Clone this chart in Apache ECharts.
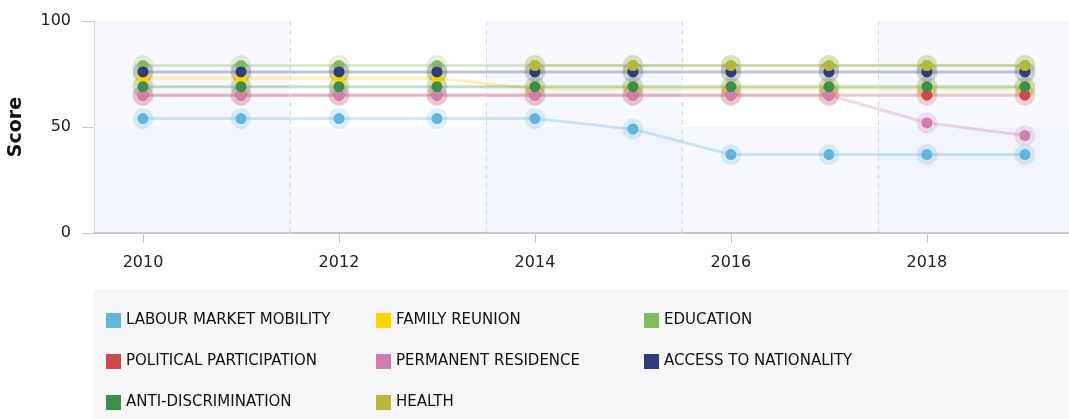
<!DOCTYPE html>
<html>
<head>
<meta charset="utf-8">
<script src="https://cdn.jsdelivr.net/npm/echarts@6/dist/echarts.min.js"></script>
<style>
  html, body { margin: 0; padding: 0; background: #fff; }
  #chart { width: 1069px; height: 419px; }
</style>
</head>
<body>
<div id="chart"></div>
<script>
// years on the x axis
const years = [2010, 2011, 2012, 2013, 2014, 2015, 2016, 2017, 2018, 2019];
const xTicks = [2010, 2012, 2014, 2016, 2018];

// scores per strand
const labourMarket = [54, 54, 54, 54, 54, 49, 37, 37, 37, 37];
const familyReunion = [73, 73, 73, 73, 68, 68, 68, 68, 68, 68];
const education = [79, 79, 79, 79, 79, 79, 79, 79, 79, 79];
const politicalPart = [65, 65, 65, 65, 65, 65, 65, 65, 65, 65];
const permanentRes = [65, 65, 65, 65, 65, 65, 65, 65, 52, 46];
const accessNat = [76, 76, 76, 76, 76, 76, 76, 76, 76, 76];
const antiDiscrim = [69, 69, 69, 69, 69, 69, 69, 69, 69, 69];
const health = [null, null, null, null, 79, 79, 79, 79, 79, 79];

// shaded year bands and dashed separators
const bands = [[2009.5, 2011.5], [2013.5, 2015.5], [2017.5, 2019.5]];
const separators = [2011.5, 2013.5, 2015.5, 2017.5];

const strands = [
  { name: 'LABOUR MARKET MOBILITY', color: '#62b5dd', values: labourMarket },
  { name: 'FAMILY REUNION', color: '#ffd200', values: familyReunion },
  { name: 'EDUCATION', color: '#84bb5c', values: education },
  { name: 'POLITICAL PARTICIPATION', color: '#d0494a', values: politicalPart },
  { name: 'PERMANENT RESIDENCE', color: '#cf7fae', values: permanentRes },
  { name: 'ACCESS TO NATIONALITY', color: '#2e3d78', values: accessNat },
  { name: 'ANTI-DISCRIMINATION', color: '#3e8e4b', values: antiDiscrim },
  { name: 'HEALTH', color: '#b8b73c', values: health }
];

const FONT = 'Verdana, "DejaVu Sans", sans-serif';

const chart = echarts.init(document.getElementById('chart'));

const pairs = (vals) => years.map((y, i) => [y, vals[i]]);

// faint lines + halos first
const lineSeries = strands.map((s, i) => {
  const ser = {
    name: s.name,
    type: 'line',
    data: pairs(s.values),
    symbol: 'circle',
    symbolSize: 21,
    showSymbol: true,
    connectNulls: false,
    lineStyle: { color: s.color, width: 3, opacity: 0.3 },
    itemStyle: { color: s.color, opacity: 0.22 },
    emphasis: { disabled: true },
    z: 2
  };
  if (i === 0) {
    ser.markArea = {
      silent: true,
      itemStyle: { color: 'rgba(227,231,251,0.28)' },
      data: bands.map(b => [{ xAxis: b[0] }, { xAxis: b[1] }])
    };
    ser.markLine = {
      silent: true,
      symbol: 'none',
      label: { show: false },
      lineStyle: { color: '#d8d8d8', type: [5, 4], width: 1 },
      data: separators.map(x => ({ xAxis: x }))
    };
  }
  return ser;
});

// solid dots on top
const dotSeries = strands.map(s => ({
  name: s.name,
  type: 'scatter',
  data: pairs(s.values).filter(p => p[1] != null),
  symbol: 'circle',
  symbolSize: 11,
  itemStyle: { color: s.color, opacity: 1 },
  emphasis: { disabled: true },
  z: 3
}));

const legendItem = (name) => {
  const s = strands.find(t => t.name === name);
  return { name: name, itemStyle: { color: s.color, opacity: 1 } };
};

const legendBase = {
  orient: 'vertical',
  top: 313,
  padding: 0,
  itemWidth: 15,
  itemHeight: 15,
  itemGap: 26,
  icon: 'rect',
  selectedMode: false,
  textStyle: { fontSize: 15, color: '#111', fontFamily: FONT }
};

chart.setOption({
  animation: false,
  textStyle: { fontFamily: FONT },
  graphic: [{
    type: 'rect',
    left: 94,
    top: 290,
    z: -10,
    shape: { width: 975, height: 129 },
    style: { fill: '#f6f6f6' }
  }],
  grid: { left: 94, right: 0, top: 21, height: 212, containLabel: false, outerBoundsMode: 'none' },
  xAxis: {
    type: 'value',
    min: 2009.5,
    max: 2019.45,
    axisLine: { show: true, lineStyle: { color: '#c4c4c4', width: 2 } },
    axisTick: { show: true, length: 10, customValues: xTicks, lineStyle: { color: '#c4c4c4' } },
    axisLabel: {
      customValues: xTicks,
      formatter: (v) => String(v),
      margin: 22,
      fontSize: 16,
      color: '#222',
      fontFamily: FONT
    },
    splitLine: { show: false }
  },
  yAxis: {
    type: 'value',
    min: 0,
    max: 100,
    interval: 50,
    name: 'Score',
    nameLocation: 'middle',
    nameGap: 68,
    nameTextStyle: { fontSize: 19, fontWeight: 'bold', color: '#111', fontFamily: FONT },
    axisLine: { show: true, lineStyle: { color: '#d0d0d0', width: 1 } },
    axisTick: { show: true, length: 12, lineStyle: { color: '#c8c8c8' } },
    axisLabel: { margin: 23, fontSize: 16, color: '#222', fontFamily: FONT },
    splitLine: { show: false },
    splitArea: { show: true, areaStyle: { color: ['rgba(227,231,251,0.28)', 'rgba(255,255,255,0)'] } }
  },
  legend: [
    Object.assign({ left: 106, data: ['LABOUR MARKET MOBILITY', 'POLITICAL PARTICIPATION', 'ANTI-DISCRIMINATION'].map(legendItem) }, legendBase),
    Object.assign({ left: 376, data: ['FAMILY REUNION', 'PERMANENT RESIDENCE', 'HEALTH'].map(legendItem) }, legendBase),
    Object.assign({ left: 644, data: ['EDUCATION', 'ACCESS TO NATIONALITY'].map(legendItem) }, legendBase)
  ],
  series: lineSeries.concat(dotSeries)
});
</script>
</body>
</html>
